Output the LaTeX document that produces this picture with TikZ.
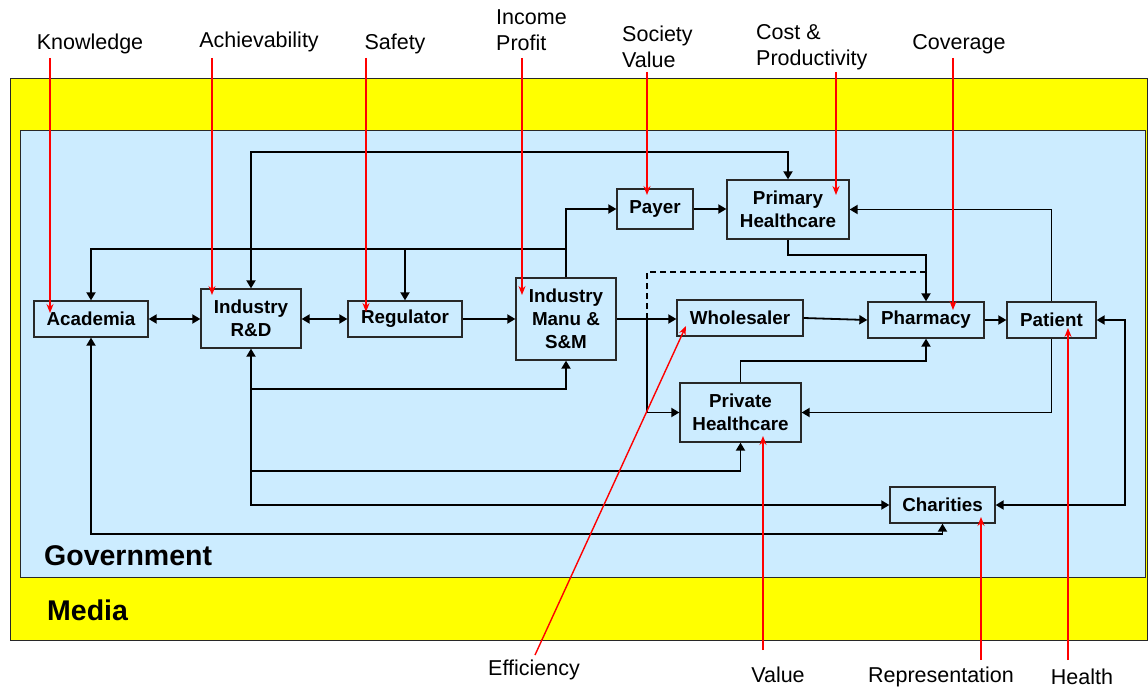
\documentclass[tikz,border=0pt]{standalone}
\usepackage{fontspec}
\setmainfont{Liberation Sans}
\usetikzlibrary{arrows.meta}
\definecolor{ybg}{RGB}{255,255,0}
\definecolor{bbg}{RGB}{204,236,255}
\definecolor{bord}{RGB}{40,40,40}
\begin{document}
\begin{tikzpicture}[x=1pt,y=-1pt,
  box/.style={draw=bord,line width=1.3pt,fill=bbg,inner sep=0pt,align=center,
    font=\fontsize{18.8}{23}\selectfont\bfseries},
  lbl/.style={inner sep=0pt,font=\fontsize{21.5}{26}\selectfont},
  conn/.style={line width=1.8pt,black,arrows={-Triangle[length=8pt,width=9pt]}},
  conn2/.style={line width=1.8pt,black,arrows={Triangle[length=8pt,width=9pt]-Triangle[length=8pt,width=9pt]}},
  plain/.style={line width=1.8pt,black},
  redarr/.style={red,line width=1.4pt,arrows={-Stealth[length=9pt,width=7pt,inset=3pt]}}]
\useasboundingbox (0,0) rectangle (1148,687);
\fill[white] (0,0) rectangle (1148,687);
% backgrounds
\draw[bord,line width=1pt,fill=ybg] (10,79) rectangle (1147,640);
\draw[bord,line width=1pt,fill=bbg] (20,131) rectangle (1145,577);
\node[anchor=west,inner sep=0pt,font=\fontsize{28.5}{30}\selectfont\bfseries] (gov) at (44,556) {Government};
\node[anchor=west,inner sep=0pt,font=\fontsize{28.5}{30}\selectfont\bfseries] (media) at (47,610) {Media};
% nodes
\node[box,minimum width=114pt,minimum height=36pt] (acad) at (91,319) {\raisebox{-1.5pt}{Academia}};
\node[box,minimum width=100pt,minimum height=59pt] (rd) at (251,318.5) {Industry\\R\&D};
\node[box,minimum width=114pt,minimum height=36pt] (reg) at (405,319) {\raisebox{-1.5pt}{Regulator}};
\node[box,minimum width=100pt,minimum height=82pt] (manu) at (566,319) {Industry\\Manu \&\\S\&M};
\node[box,minimum width=76pt,minimum height=40pt] (payer) at (655,209) {\raisebox{-1.5pt}{Payer}};
\node[box,minimum width=122pt,minimum height=59pt] (ph) at (788,209.5) {Primary\\Healthcare};
\node[box,minimum width=126pt,minimum height=36pt] (whole) at (740,318) {Wholesaler};
\node[box,minimum width=116pt,minimum height=36pt] (pharm) at (926,320) {\raisebox{-1.5pt}{Pharmacy}};
\node[box,minimum width=89pt,minimum height=36pt] (pat) at (1051.5,320) {Patient};
\node[box,minimum width=121pt,minimum height=59pt] (priv) at (740.5,412.5) {Private\\Healthcare};
\node[box,minimum width=105pt,minimum height=36pt] (char) at (942.5,505) {\raisebox{-1pt}{Charities}};
% connectors
\draw[conn2] (acad.east) -- (rd.west |- acad.east);
\draw[conn2] (rd.east |- reg.west) -- (reg.west);
\draw[conn] (reg.east) -- (manu.west |- reg.east);
\draw[conn2] (rd.north) -- (rd.north |- 0,152) -| (ph.north);
\draw[conn] (manu.north) |- (payer.west);
\draw[conn] (manu.north |- 0,249) -| (acad.north);
\draw[conn] (reg.north |- 0,249) -- (reg.north);
\draw[conn] (payer.east) -- (ph.west |- payer.east);
\draw[conn] (ph.south) -- (ph.south |- 0,255) -| (pharm.north);
\coordinate (j) at (647,319);
\draw[conn] (manu.east) -- (manu.east -| whole.west);
\draw[plain,dashed,dash pattern=on 6pt off 4pt] (j) -- (j |- 0,272) -- (pharm.north |- 0,272);
\draw[conn] (j) |- (priv.west);
\draw[conn] (whole.east) -- (pharm.west);
\draw[conn] (pharm.east) -- (pat.west);
\draw[conn] (pat.north) |- (ph.east);
\draw[conn] (pat.south) |- (priv.east);
\draw[conn] (priv.north) -- (priv.north |- 0,361) -| (pharm.south);
\draw[conn2] (pat.east) -- (1125,320) |- (char.east);
\draw[conn2] (rd.south) |- (char.west);
\draw[conn] (rd.south |- 0,389) -| (manu.south);
\draw[conn] (rd.south |- 0,471) -| (priv.south);
\draw[conn2] (acad.south) |- (char.south |- 0,534) -- (char.south);
% labels
\node[lbl] (knw) at (90,44) {Knowledge};
\node[lbl] (ach) at (259,42) {Achievability};
\node[lbl] (saf) at (395,44) {Safety};
\node[lbl,anchor=west,align=left] (inc) at (496,30) {Income\\Profit};
\node[lbl,anchor=west,align=left] (soc) at (622,47) {Society\\Value};
\node[lbl,anchor=west,align=left] (cost) at (756,47) {Cost \&\\Productivity};
\node[lbl] (cov) at (959,44) {Coverage};
\node[lbl] (eff) at (534,670) {Efficiency};
\node[lbl] (val) at (778,675) {Value};
\node[lbl] (rep) at (941,677) {Representation};
\node[lbl] (hea) at (1082,677) {Health};
% red arrows
\draw[redarr] (50,58) -- (50,313);
\draw[redarr] (212,58) -- (212,295);
\draw[redarr] (366,58) -- (366,312);
\draw[redarr] (522,58) -- (522,295);
\draw[redarr] (647,72) -- (647,195);
\draw[redarr] (836,72) -- (836,195);
\draw[redarr] (953,58) -- (953,310);
\draw[redarr] (535,655) -- (686,326);
\draw[redarr] (763,650) -- (763,436);
\draw[redarr] (981,660) -- (981,517);
\draw[redarr] (1068,660) -- (1068,328);
\end{tikzpicture}
\end{document}
